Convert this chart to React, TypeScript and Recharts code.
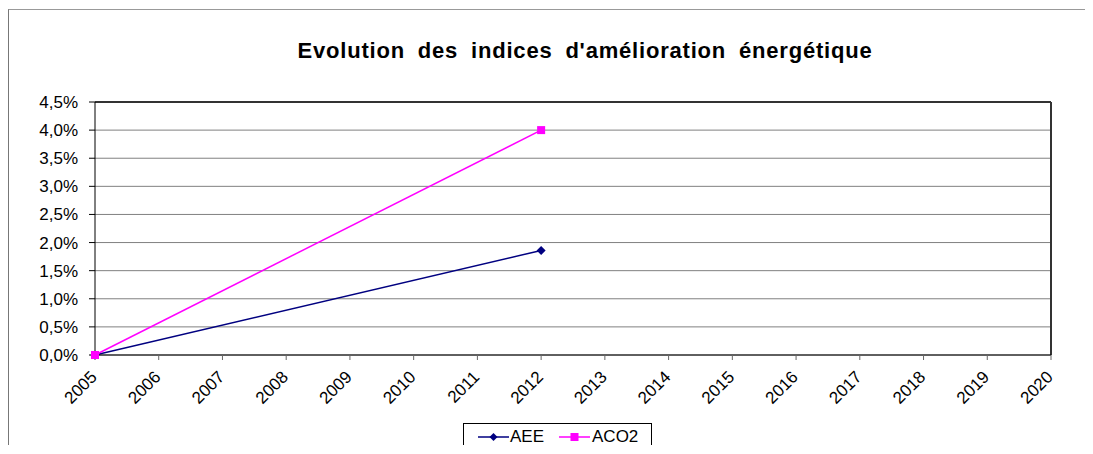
/**
 * EnergyIndexChart
 * Evolution of energy improvement indices (AEE / ACO2), 2005-2020.
 */

import {
  LineChart, Line, XAxis, YAxis,
  CartesianGrid, ReferenceLine,
} from "recharts";

const FONT = "'Liberation Sans', Arial, sans-serif";

const years = [
  "2005", "2006", "2007", "2008", "2009", "2010", "2011", "2012",
  "2013", "2014", "2015", "2016", "2017", "2018", "2019", "2020",
];
// only 2005 and 2012 are filled in
const aee = [0, null, null, null, null, null, null, 0.0186, null, null, null, null, null, null, null, null];
const aco2 = [0, null, null, null, null, null, null, 0.04, null, null, null, null, null, null, null, null];
const yTicks = [0, 0.005, 0.01, 0.015, 0.02, 0.025, 0.03, 0.035, 0.04, 0.045];

const data = years.map((year, i) => ({ year, AEE: aee[i], ACO2: aco2[i] }));

const pct = (v: number) => (v * 100).toFixed(1).replace(".", ",") + "%";

function Diamond(props: any) {
  const { cx, cy, index } = props;
  if (cx == null || cy == null) return <g key={index} />;
  const r = 4.5;
  return (
    <path
      key={index}
      d={`M${cx},${cy - r}L${cx + r},${cy}L${cx},${cy + r}L${cx - r},${cy}Z`}
      fill="#000080"
    />
  );
}

function Square(props: any) {
  const { cx, cy, index } = props;
  if (cx == null || cy == null) return <g key={index} />;
  return <rect key={index} x={cx - 4} y={cy - 4} width={8} height={8} fill="#FF00FF" />;
}

function YearTick({ x, y, payload }: any) {
  const tx = x + 3;
  const ty = y + 16;
  return (
    <text
      x={tx} y={ty} textAnchor="end" fontSize={17} fontFamily={FONT} fill="#000"
      transform={`rotate(-45, ${tx}, ${ty})`}
    >
      {payload.value}
    </text>
  );
}

// legend box under the plot, drawn as plain HTML so it sits exactly
function LegendBox() {
  return (
    <div style={{
      position: "absolute", left: 454, top: 413, width: 189, height: 28, zIndex: 2,
      border: "1px solid #000", background: "#fff", boxSizing: "border-box",
      display: "flex", alignItems: "center", fontFamily: FONT, fontSize: 17, color: "#000",
      paddingLeft: 14,
    }}>
      <svg width={31} height={12}>
        <line x1={0} y1={6} x2={31} y2={6} stroke="#000080" strokeWidth={1.5} />
        <path d="M15.5,2L19.5,6L15.5,10L11.5,6Z" fill="#000080" />
      </svg>
      <span style={{ marginLeft: 1 }}>AEE</span>
      <svg width={31} height={12} style={{ marginLeft: 15 }}>
        <line x1={0} y1={6} x2={31} y2={6} stroke="#FF00FF" strokeWidth={1.5} />
        <rect x={11.5} y={2} width={8} height={8} fill="#FF00FF" />
      </svg>
      <span style={{ marginLeft: 2 }}>ACO2</span>
    </div>
  );
}

export default function App() {
  return (
    <div style={{
      position: "relative", top: 1, width: 1084, height: 436,
      borderTop: "1px solid #999", borderLeft: "1px solid #777",
    }}>
      <LineChart
        width={1084}
        height={436}
        data={data}
        margin={{ top: 92, right: 42, bottom: 31, left: 0 }}
      >
        <text
          x={576} y={48} textAnchor="middle" fontFamily={FONT}
          fontSize={22} fontWeight="bold" fill="#000"
          letterSpacing={0.8} wordSpacing={6}
        >
          Evolution des indices d'amélioration énergétique
        </text>
        <CartesianGrid vertical={false} stroke="#808080" />
        <XAxis
          dataKey="year"
          interval={0}
          height={60}
          tickSize={5}
          stroke="#000"
          tickLine={{ stroke: "#666" }}
          tick={<YearTick />}
        />
        <YAxis
          width={86}
          domain={[0, 0.045]}
          ticks={yTicks}
          tickFormatter={pct}
          tickSize={6}
          tickMargin={11}
          stroke="#000"
          tick={{ fill: "#000", fontSize: 17, fontFamily: FONT }}
        />
        <ReferenceLine y={0.045} stroke="#333" strokeWidth={2} />
        <ReferenceLine x="2020" stroke="#333" strokeWidth={2} />
        <Line
          type="linear"
          dataKey="AEE"
          stroke="#000080"
          strokeWidth={1.5}
          connectNulls
          dot={Diamond}
          activeDot={false}
          isAnimationActive={false}
        />
        <Line
          type="linear"
          dataKey="ACO2"
          stroke="#FF00FF"
          strokeWidth={1.5}
          connectNulls
          dot={Square}
          activeDot={false}
          isAnimationActive={false}
        />
      </LineChart>
      <LegendBox />
    </div>
  );
}
